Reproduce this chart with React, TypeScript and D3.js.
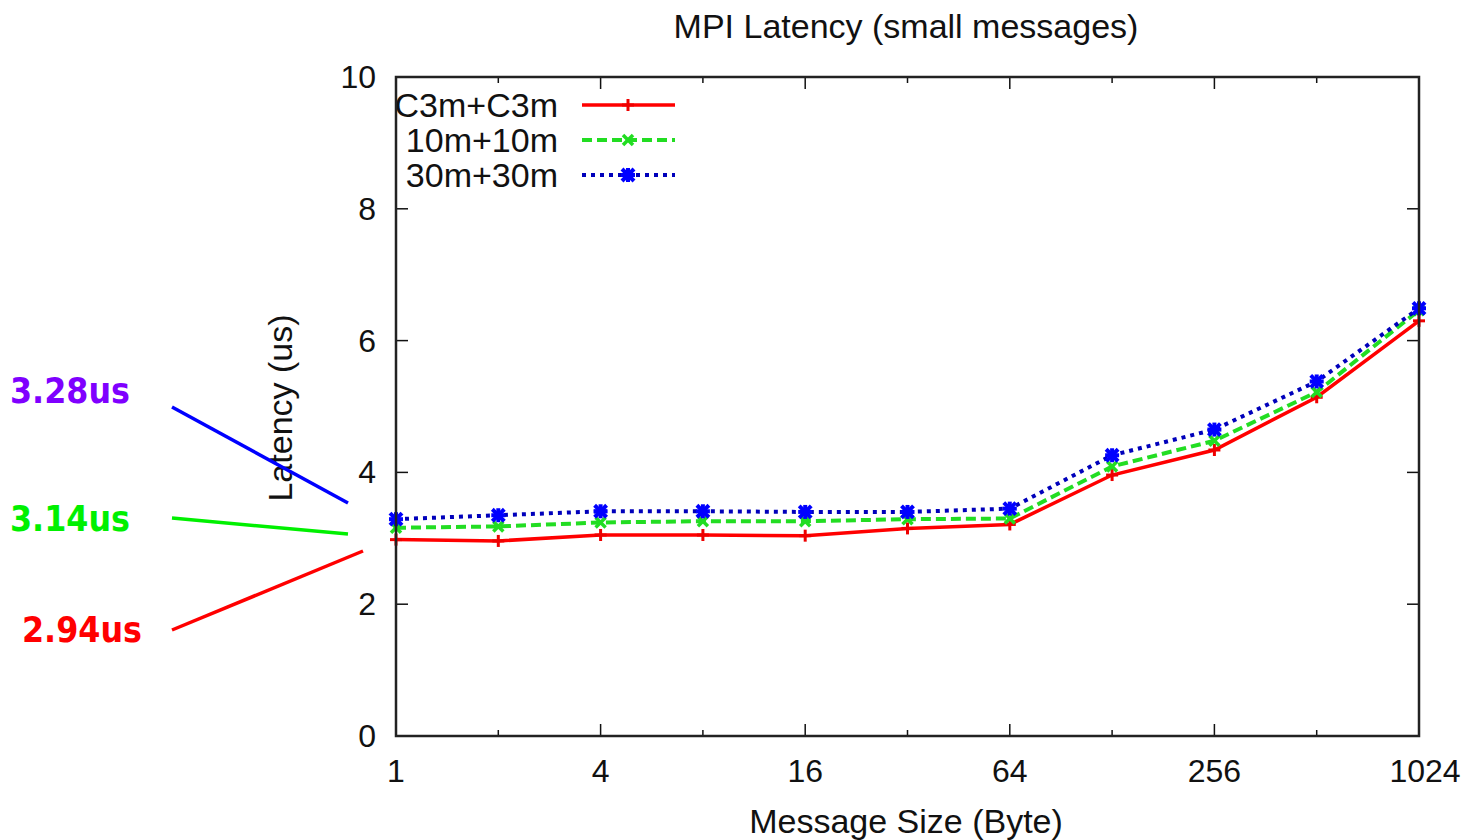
import React from 'react';
import * as d3 from 'd3';

// message sizes (bytes) and latencies (us)
const sizes = [1, 2, 4, 8, 16, 32, 64, 128, 256, 512, 1024];
const c3mC3m = [2.98, 2.96, 3.05, 3.05, 3.04, 3.15, 3.21, 3.96, 4.34, 5.14, 6.30];
const m10m10 = [3.16, 3.18, 3.24, 3.26, 3.26, 3.29, 3.30, 4.09, 4.48, 5.22, 6.46];
const m30m30 = [3.29, 3.35, 3.41, 3.41, 3.40, 3.40, 3.45, 4.26, 4.65, 5.38, 6.49];

const seriesNames = ['C3m+C3m', '10m+10m', '30m+30m'];
const majorX = [1, 4, 16, 64, 256, 1024];
const minorX = [2, 8, 32, 128, 512];
const yTicks = [0, 2, 4, 6, 8, 10];

// hand-drawn callouts on the left
const callouts = [
  { label: '3.28us', color: '#7f00ff', line: '#0000ff' },
  { label: '3.14us', color: '#00f000', line: '#00f000' },
  { label: '2.94us', color: '#ff0000', line: '#ff0000' },
];

const W = 1466;
const H = 840;
const m = { left: 396, right: 1419, top: 77, bottom: 736 };
const font = '"Liberation Sans", Arial, sans-serif';

const Marker = ({ kind, x, y, color }: { kind: number; x: number; y: number; color: string }) => {
  if (kind === 0) {
    return (
      <g stroke={color} strokeWidth={3}>
        <line x1={x - 6} y1={y} x2={x + 6} y2={y} />
        <line x1={x} y1={y - 6} x2={x} y2={y + 6} />
      </g>
    );
  }
  if (kind === 1) {
    return (
      <g stroke={color} strokeWidth={3.5}>
        <line x1={x - 5} y1={y - 5} x2={x + 5} y2={y + 5} />
        <line x1={x - 5} y1={y + 5} x2={x + 5} y2={y - 5} />
      </g>
    );
  }
  return (
    <g stroke={color} strokeWidth={4}>
      <line x1={x - 6} y1={y - 6} x2={x + 6} y2={y + 6} />
      <line x1={x - 6} y1={y + 6} x2={x + 6} y2={y - 6} />
      <line x1={x - 7} y1={y} x2={x + 7} y2={y} />
      <line x1={x} y1={y - 7} x2={x} y2={y + 7} />
    </g>
  );
};

export default function App() {
  const x = d3.scaleLog().base(2).domain([1, 1024]).range([m.left, m.right]);
  const y = d3.scaleLinear().domain([0, 10]).range([m.bottom, m.top]);

  const series = [
    { name: seriesNames[0], values: c3mC3m, color: '#ff0000', mark: '#ee0000', dash: undefined, w: 3.5 },
    { name: seriesNames[1], values: m10m10, color: '#22dd22', mark: '#22dd22', dash: '10,5', w: 4 },
    { name: seriesNames[2], values: m30m30, color: '#0000bb', mark: '#0000ff', dash: '4,5', w: 4 },
  ];

  const line = d3
    .line<number>()
    .x((_, i) => x(sizes[i]))
    .y((d) => y(d));

  // callout positions: text baseline, line start/end
  const calloutGeom = [
    { tx: 10, ty: 403, x1: 172, y1: 407, x2: 348, y2: 503 },
    { tx: 10, ty: 531, x1: 172, y1: 518, x2: 348, y2: 534 },
    { tx: 22, ty: 642, x1: 172, y1: 630, x2: 363, y2: 551 },
  ];

  return (
    <svg width={W} height={H} style={{ position: 'absolute', left: 0, top: 0, background: '#fff' }}>
      <rect width={W} height={H} fill="#fff" />

      {/* title */}
      <text x={906} y={38} textAnchor="middle" fontFamily={font} fontSize={34} fill="#111">
        MPI Latency (small messages)
      </text>

      {/* y ticks */}
      {yTicks.map((t) => (
        <g key={'y' + t}>
          {t > 0 && t < 10 && (
            <>
              <line x1={m.left} x2={m.left + 12} y1={y(t)} y2={y(t)} stroke="#111" strokeWidth={1.5} />
              <line x1={m.right} x2={m.right - 12} y1={y(t)} y2={y(t)} stroke="#111" strokeWidth={1.5} />
            </>
          )}
          <text x={376} y={y(t) + 11} textAnchor="end" fontFamily={font} fontSize={32} fill="#111">
            {t}
          </text>
        </g>
      ))}

      {/* x ticks */}
      {majorX.map((t) => (
        <g key={'x' + t}>
          {t > 1 && t < 1024 && (
            <>
              <line x1={x(t)} x2={x(t)} y1={m.bottom} y2={m.bottom - 12} stroke="#111" strokeWidth={1.5} />
              <line x1={x(t)} x2={x(t)} y1={m.top} y2={m.top + 12} stroke="#111" strokeWidth={1.5} />
            </>
          )}
          <text x={t === 1024 ? x(t) + 6 : x(t)} y={782} textAnchor="middle" fontFamily={font} fontSize={32} fill="#111">
            {t}
          </text>
        </g>
      ))}
      {minorX.map((t) => (
        <g key={'mx' + t}>
          <line x1={x(t)} x2={x(t)} y1={m.bottom} y2={m.bottom - 6} stroke="#111" strokeWidth={1.5} />
          <line x1={x(t)} x2={x(t)} y1={m.top} y2={m.top + 6} stroke="#111" strokeWidth={1.5} />
        </g>
      ))}

      {/* axis labels */}
      <text x={906} y={833} textAnchor="middle" fontFamily={font} fontSize={34} fill="#111">
        Message Size (Byte)
      </text>
      <text
        transform={`translate(292, 408) rotate(-90)`}
        textAnchor="middle"
        fontFamily={font}
        fontSize={34}
        fill="#111"
      >
        Latency (us)
      </text>

      {/* series */}
      {series.map((s, k) => (
        <g key={s.name}>
          <path d={line(s.values) || ''} fill="none" stroke={s.color} strokeWidth={s.w} strokeDasharray={s.dash} />
          {s.values.map((v, i) => (
            <Marker key={i} kind={k} x={x(sizes[i])} y={y(v)} color={s.mark} />
          ))}
        </g>
      ))}

      {/* legend */}
      {series.map((s, k) => {
        const ly = 105 + k * 35;
        return (
          <g key={'leg' + s.name}>
            <text x={558} y={ly + 12} textAnchor="end" fontFamily={font} fontSize={34} fill="#111">
              {s.name}
            </text>
            <line x1={582} x2={675} y1={ly} y2={ly} stroke={s.color} strokeWidth={s.w} strokeDasharray={s.dash} />
            <Marker kind={k} x={628} y={ly} color={s.mark} />
          </g>
        );
      })}

      {/* frame */}
      <rect
        x={m.left}
        y={m.top}
        width={m.right - m.left}
        height={m.bottom - m.top}
        fill="none"
        stroke="#222"
        strokeWidth={2.5}
      />

      {/* callouts */}
      {callouts.map((c, i) => {
        const g = calloutGeom[i];
        return (
          <g key={c.label}>
            <text
              x={g.tx}
              y={g.ty}
              fontFamily='"DejaVu Sans Condensed", "DejaVu Sans", sans-serif'
              fontWeight="bold"
              fontSize={36}
              fill={c.color}
              textLength={120}
              lengthAdjust="spacingAndGlyphs"
            >
              {c.label}
            </text>
            <line x1={g.x1} y1={g.y1} x2={g.x2} y2={g.y2} stroke={c.line} strokeWidth={3.5} />
          </g>
        );
      })}
    </svg>
  );
}
